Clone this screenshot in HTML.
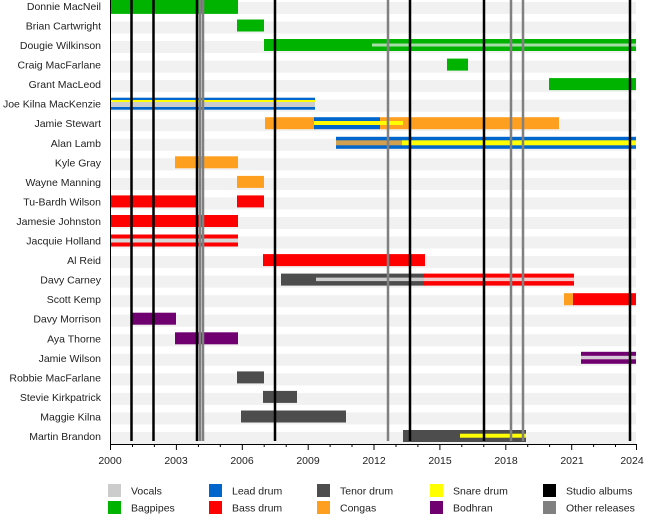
<!DOCTYPE html>
<html><head><meta charset="utf-8"><style>body{margin:0;background:#fff}svg{display:block}text{font-family:"Liberation Sans",sans-serif;font-size:10.5px;fill:#222}</style></head><body>
<svg width="650" height="520" viewBox="0 0 650 520">
<g fill="#f1f1f1">
<rect x="110" y="1.9" width="526" height="12"/><rect x="110" y="21.5" width="526" height="12"/><rect x="110" y="41" width="526" height="12"/><rect x="110" y="60.6" width="526" height="12"/><rect x="110" y="80.1" width="526" height="12"/><rect x="110" y="99.7" width="526" height="12"/><rect x="110" y="119.2" width="526" height="12"/><rect x="110" y="138.8" width="526" height="12"/><rect x="110" y="158.3" width="526" height="12"/><rect x="110" y="177.9" width="526" height="12"/><rect x="110" y="197.4" width="526" height="12"/><rect x="110" y="217" width="526" height="12"/><rect x="110" y="236.5" width="526" height="12"/><rect x="110" y="256.1" width="526" height="12"/><rect x="110" y="275.6" width="526" height="12"/><rect x="110" y="295.2" width="526" height="12"/><rect x="110" y="314.7" width="526" height="12"/><rect x="110" y="334.3" width="526" height="12"/><rect x="110" y="353.8" width="526" height="12"/><rect x="110" y="373.4" width="526" height="12"/><rect x="110" y="392.9" width="526" height="12"/><rect x="110" y="412.5" width="526" height="12"/><rect x="110" y="432" width="526" height="12"/>
</g>
<g>
<rect x="110" y="0" width="128" height="13.9" fill="#00b300"/>
<rect x="237" y="19.5" width="27" height="12" fill="#00b300"/>
<rect x="264" y="39" width="372" height="12" fill="#00b300"/>
<rect x="372" y="43.5" width="264" height="3" fill="#a8dca8"/>
<rect x="447" y="58.6" width="21" height="12" fill="#00b300"/>
<rect x="549" y="78.1" width="87" height="12" fill="#00b300"/>
<rect x="110" y="97.7" width="205" height="12" fill="#0066cc"/>
<rect x="110" y="100" width="205" height="2" fill="#ffff00"/>
<rect x="110" y="102" width="205" height="5" fill="#cccccc"/>
<rect x="265" y="117.2" width="50" height="12" fill="#ff9f1f"/>
<rect x="314" y="117.2" width="66" height="12" fill="#0066cc"/>
<rect x="380" y="117.2" width="179" height="12" fill="#ff9f1f"/>
<rect x="314" y="121" width="89" height="4" fill="#ffff00"/>
<rect x="336" y="136.8" width="300" height="12" fill="#0066cc"/>
<rect x="336" y="140.3" width="66" height="5" fill="#d0a050"/>
<rect x="402" y="140.3" width="234" height="5" fill="#ffff00"/>
<rect x="175" y="156.3" width="63" height="12" fill="#ff9f1f"/>
<rect x="237" y="175.9" width="27" height="12" fill="#ff9f1f"/>
<rect x="110" y="195.4" width="87" height="12" fill="#ff0000"/>
<rect x="237" y="195.4" width="27" height="12" fill="#ff0000"/>
<rect x="110" y="215" width="128" height="12" fill="#ff0000"/>
<rect x="110" y="234.5" width="128" height="12" fill="#ff0000"/>
<rect x="110" y="238.5" width="128" height="4" fill="#d8d8d8"/>
<rect x="263" y="254.1" width="162" height="12" fill="#ff0000"/>
<rect x="281" y="273.6" width="144" height="12" fill="#4d4d4d"/>
<rect x="316" y="277.6" width="109" height="3.5" fill="#cccccc"/>
<rect x="424" y="273.6" width="150" height="12" fill="#ff0000"/>
<rect x="424" y="277.6" width="150" height="3.5" fill="#f2c8c8"/>
<rect x="564" y="293.2" width="10" height="12" fill="#ff9f1f"/>
<rect x="573" y="293.2" width="63" height="12" fill="#ff0000"/>
<rect x="131" y="312.7" width="45" height="12" fill="#700070"/>
<rect x="175" y="332.3" width="63" height="12" fill="#700070"/>
<rect x="581" y="351.8" width="55" height="12" fill="#700070"/>
<rect x="581" y="355.8" width="55" height="3.5" fill="#d8c8d8"/>
<rect x="237" y="371.4" width="27" height="12" fill="#4d4d4d"/>
<rect x="263" y="390.9" width="34" height="12" fill="#4d4d4d"/>
<rect x="241" y="410.5" width="105" height="12" fill="#4d4d4d"/>
<rect x="403" y="430" width="123" height="12" fill="#4d4d4d"/>
<rect x="460" y="433.7" width="66" height="4" fill="#ffff00"/>
</g>
<g stroke="#808080" stroke-width="2.5">
<line x1="203" y1="0" x2="203" y2="441"/><line x1="200" y1="0" x2="200" y2="441"/><line x1="388" y1="0" x2="388" y2="441"/><line x1="511" y1="0" x2="511" y2="441"/><line x1="523" y1="0" x2="523" y2="441"/>
</g>
<g stroke="#000" stroke-width="2.5">
<line x1="131.5" y1="0" x2="131.5" y2="441"/><line x1="153.5" y1="0" x2="153.5" y2="441"/><line x1="197" y1="0" x2="197" y2="441"/><line x1="275" y1="0" x2="275" y2="441"/><line x1="410" y1="0" x2="410" y2="441"/><line x1="484" y1="0" x2="484" y2="441"/><line x1="630" y1="0" x2="630" y2="441"/>
</g>
<g stroke="#000" stroke-width="1">
<line x1="110.5" y1="0" x2="110.5" y2="444"/>
<line x1="110" y1="444.5" x2="637" y2="444.5"/>
<line x1="110.5" y1="444" x2="110.5" y2="450"/><line x1="176.4" y1="444" x2="176.4" y2="450"/><line x1="242.3" y1="444" x2="242.3" y2="450"/><line x1="308.2" y1="444" x2="308.2" y2="450"/><line x1="374" y1="444" x2="374" y2="450"/><line x1="439.9" y1="444" x2="439.9" y2="450"/><line x1="505.8" y1="444" x2="505.8" y2="450"/><line x1="571.7" y1="444" x2="571.7" y2="450"/><line x1="636.5" y1="444" x2="636.5" y2="450"/>
<line x1="132.5" y1="444" x2="132.5" y2="447"/><line x1="154.4" y1="444" x2="154.4" y2="447"/><line x1="198.4" y1="444" x2="198.4" y2="447"/><line x1="220.3" y1="444" x2="220.3" y2="447"/><line x1="264.2" y1="444" x2="264.2" y2="447"/><line x1="286.2" y1="444" x2="286.2" y2="447"/><line x1="330.1" y1="444" x2="330.1" y2="447"/><line x1="352" y1="444" x2="352" y2="447"/><line x1="396" y1="444" x2="396" y2="447"/><line x1="417.9" y1="444" x2="417.9" y2="447"/><line x1="461.8" y1="444" x2="461.8" y2="447"/><line x1="483.8" y1="444" x2="483.8" y2="447"/><line x1="527.7" y1="444" x2="527.7" y2="447"/><line x1="549.6" y1="444" x2="549.6" y2="447"/><line x1="593.6" y1="444" x2="593.6" y2="447"/><line x1="615.5" y1="444" x2="615.5" y2="447"/>
</g>
<g text-anchor="middle">
<text x="110" y="464">2000</text><text x="176" y="464">2003</text><text x="242" y="464">2006</text><text x="308" y="464">2009</text><text x="374" y="464">2012</text><text x="440" y="464">2015</text><text x="506" y="464">2018</text><text x="572" y="464">2021</text><text x="632" y="464">2024</text>
</g>
<g text-anchor="end">
<text x="101" y="10">Donnie MacNeil</text><text x="101" y="29.5">Brian Cartwright</text><text x="101" y="49">Dougie Wilkinson</text><text x="101" y="68.6">Craig MacFarlane</text><text x="101" y="88.1">Grant MacLeod</text><text x="101" y="107.7">Joe Kilna MacKenzie</text><text x="101" y="127.2">Jamie Stewart</text><text x="101" y="146.8">Alan Lamb</text><text x="101" y="166.3">Kyle Gray</text><text x="101" y="185.9">Wayne Manning</text><text x="101" y="205.4">Tu-Bardh Wilson</text><text x="101" y="225">Jamesie Johnston</text><text x="101" y="244.5">Jacquie Holland</text><text x="101" y="264.1">Al Reid</text><text x="101" y="283.6">Davy Carney</text><text x="101" y="303.2">Scott Kemp</text><text x="101" y="322.7">Davy Morrison</text><text x="101" y="342.3">Aya Thorne</text><text x="101" y="361.8">Jamie Wilson</text><text x="101" y="381.4">Robbie MacFarlane</text><text x="101" y="400.9">Stevie Kirkpatrick</text><text x="101" y="420.5">Maggie Kilna</text><text x="101" y="440">Martin Brandon</text>
</g>
<g>
<rect x="108" y="484" width="13" height="13" fill="#cccccc"/><text x="131" y="494.5">Vocals</text>
<rect x="108" y="501" width="13" height="13" fill="#00b300"/><text x="131" y="511.5">Bagpipes</text>
<rect x="209" y="484" width="13" height="13" fill="#0066cc"/><text x="232" y="494.5">Lead drum</text>
<rect x="209" y="501" width="13" height="13" fill="#ff0000"/><text x="232" y="511.5">Bass drum</text>
<rect x="317" y="484" width="13" height="13" fill="#4d4d4d"/><text x="340" y="494.5">Tenor drum</text>
<rect x="317" y="501" width="13" height="13" fill="#ff9f1f"/><text x="340" y="511.5">Congas</text>
<rect x="430" y="484" width="13" height="13" fill="#ffff00"/><text x="453" y="494.5">Snare drum</text>
<rect x="430" y="501" width="13" height="13" fill="#700070"/><text x="453" y="511.5">Bodhran</text>
<rect x="543" y="484" width="13" height="13" fill="#000"/><text x="566" y="494.5">Studio albums</text>
<rect x="543" y="501" width="13" height="13" fill="#808080"/><text x="566" y="511.5">Other releases</text>
</g>
</svg>
</body></html>
